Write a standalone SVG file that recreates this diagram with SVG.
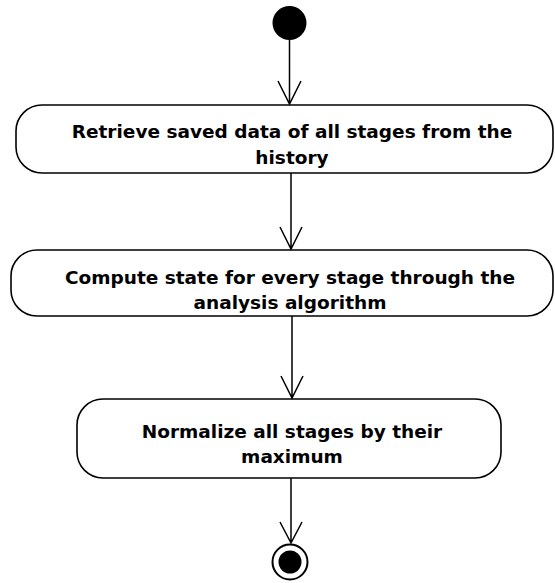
<svg xmlns="http://www.w3.org/2000/svg" width="555" height="583" viewBox="0 0 555 583">
<style>
.box{fill:#fff;stroke:#000;stroke-width:1.6}
.lbl{font-family:"DejaVu Sans",sans-serif;font-weight:bold;font-size:18.5px;text-anchor:middle;fill:#000}
.edge{fill:none;stroke:#000;stroke-width:1.5}
</style>
<rect width="555" height="583" fill="#fff"/>
<g id="start"><circle cx="289.5" cy="23" r="17" fill="#000"/></g>
<g id="n1"><rect class="box" x="16" y="105" width="537" height="68" rx="26" ry="26"/>
<text class="lbl" x="292" y="138">Retrieve saved data of all stages from the</text>
<text class="lbl" x="292" y="164">history</text></g>
<g id="n2"><rect class="box" x="11" y="250" width="542" height="66" rx="26" ry="26"/>
<text class="lbl" x="290" y="284">Compute state for every stage through the</text>
<text class="lbl" x="290" y="309">analysis algorithm</text></g>
<g id="n3"><rect class="box" x="77" y="399" width="424" height="79" rx="26" ry="26"/>
<text class="lbl" x="292" y="438">Normalize all stages by their</text>
<text class="lbl" x="292" y="463">maximum</text></g>
<g id="end"><circle cx="290" cy="562" r="17.5" fill="#fff" stroke="#000" stroke-width="2"/><circle cx="290" cy="562" r="11.5" fill="#000"/></g>
<g id="connectors">
<path class="edge" d="M289.5 40V104M278 81L289.5 104L301 81"/>
<path class="edge" d="M291 173V249M280 227L291 249L302 227"/>
<path class="edge" d="M292 316V398M281 376L292 398L303 376"/>
<path class="edge" d="M291 478V543M280 522L291 543L302 522"/>
</g>
</svg>
